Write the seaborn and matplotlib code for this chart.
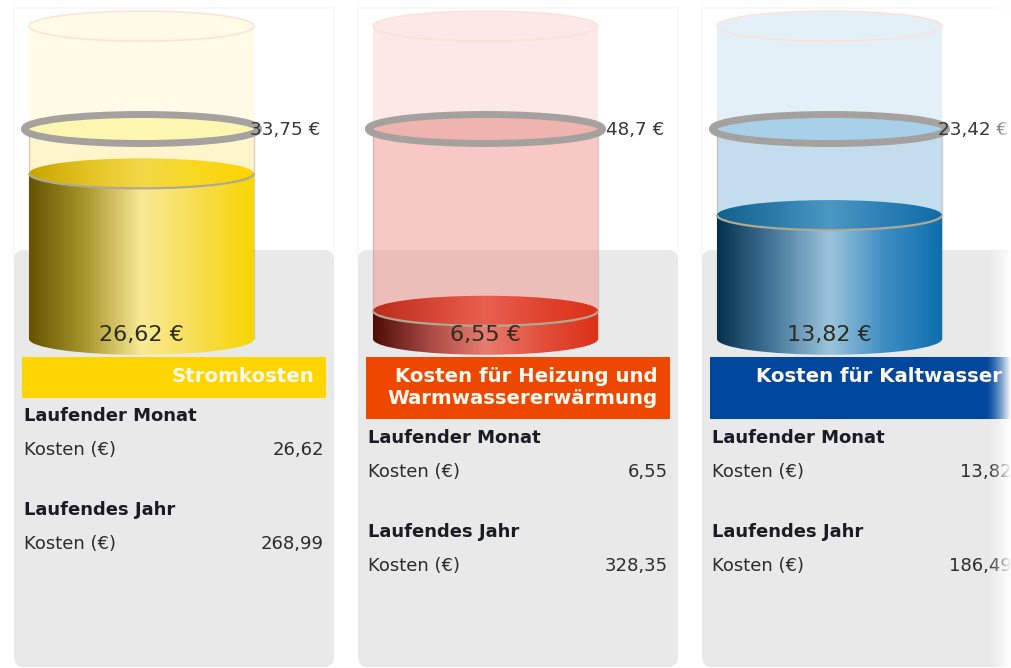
import numpy as np
import matplotlib
matplotlib.use('Agg')
import matplotlib.pyplot as plt
import seaborn as sns
from matplotlib.colors import LinearSegmentedColormap
from matplotlib.patches import Arc, Ellipse, FancyBboxPatch, Rectangle

# values
names = ['Stromkosten', 'Kosten für Heizung und\nWarmwassererwärmung', 'Kosten für Kaltwasser']
current = [26.62, 6.55, 13.82]
target = [33.75, 48.7, 23.42]
year_cost = [268.99, 328.35, 186.49]

band_colors = ['#ffd500', '#ee4700', '#00479d']
band_heights = [41, 62, 62]
glass_colors = ['#fff4b0', '#f6b4b0', '#a8d0ea']
below_colors = ['#fde890', '#ee8078', '#78b4da']
ring_fill = ['#fdf6b0', '#f0b4b0', '#a8d0e8']
body_stops = [
    ['#655400', '#a8962c', '#f9ea96', '#f7dd50', '#f8d600'],
    ['#4e0c06', '#a84a44', '#e87c70', '#e2503c', '#dc3018'],
    ['#06304e', '#45789a', '#9cc4dc', '#3c8dc2', '#0e6fae'],
]
cap_stops = [
    ['#c8a400', '#e2c220', '#f4d848', '#f7d820', '#ffd400'],
    ['#bc2c1a', '#d44436', '#e86050', '#e04430', '#dc3018'],
    ['#12628e', '#2a7aa8', '#4c98c4', '#2a80b4', '#0e6ca8'],
]

sns.set_theme(style='white')
plt.rcParams['font.family'] = 'DejaVu Sans'

W, H = 1011, 668
fig = plt.figure(figsize=(W / 100, H / 100), dpi=100)

# pixel axes behind everything, for panels and coloured bands
bg = fig.add_axes([0, 0, 1, 1])
bg.set_xlim(0, W)
bg.set_ylim(H, 0)
bg.axis('off')

top = fig.add_axes([0, 0, 1, 1], zorder=10)
top.set_xlim(0, W)
top.set_ylim(H, 0)
top.axis('off')
top.patch.set_alpha(0)


def euro(v):
    return str(v).replace('.', ',')


def gradient(ax, stops, lo, hi, clip, zorder):
    cmap = LinearSegmentedColormap.from_list('c', stops)
    im = ax.imshow(np.linspace(0, 1, 256)[None, :], cmap=cmap, aspect='auto',
                   extent=(-0.5, 0.5, lo, hi), zorder=zorder)
    im.set_clip_path(clip)


for i in range(3):
    x0 = 14 + 344 * i
    dy = 0 if i == 0 else 22

    bg.add_patch(Rectangle((x0, 8), 320, 250, fc='white', ec='#f7f7fa', lw=1.5))
    bg.add_patch(FancyBboxPatch((x0 + 8, 258), 304, 401, boxstyle='round,pad=8,rounding_size=10',
                                fc='#e9e9e9', ec='none'))
    bg.add_patch(Rectangle((x0 + 8, 357), 304, band_heights[i], fc=band_colors[i], ec='none'))

    # cylinder axes, y is in euro and the target always sits at the same height
    scale = 210 / target[i]
    ax = fig.add_axes([x0 / W, 0, 320 / W, 1], zorder=5)
    ax.patch.set_alpha(0)
    glass_top = target[i] * 1.49
    eh = 30 / scale

    ax.add_patch(Ellipse((0, glass_top), 1, eh, fc='white', ec='none', zorder=0.5))
    sns.barplot(x=[names[i]], y=[glass_top], width=1, color=glass_colors[i], alpha=0.3,
                saturation=1, ax=ax, zorder=1)
    ax.patches[-1].set_edgecolor('none')
    sns.barplot(x=[names[i]], y=[target[i]], width=1, color=below_colors[i], alpha=0.3,
                saturation=1, ax=ax, zorder=2)
    ax.patches[-1].set_edgecolor('none')
    ax.add_patch(Ellipse((0, glass_top), 1, eh, fc='white', ec='none', zorder=3))
    ax.add_patch(Ellipse((0, glass_top), 1, eh, fc=glass_colors[i], alpha=0.3, ec='none', zorder=3.1))
    ax.add_patch(Ellipse((0, glass_top), 1, eh, fc='none', ec='#fbe3da', lw=1.2, zorder=3.2))
    ax.vlines([-0.5, 0.5], 0, target[i], color='#b8b0a8', lw=1, alpha=0.6, zorder=3)

    # filled part
    sns.barplot(x=[names[i]], y=[current[i]], width=1, color=body_stops[i][2], saturation=1,
                ax=ax, zorder=4)
    level_bar = ax.patches[-1]
    level_bar.set_edgecolor('none')
    gradient(ax, body_stops[i], -eh, current[i], level_bar, 5)
    bottom = Ellipse((0, 0), 1, eh * 1.05, fc='none', ec='none', zorder=5)
    ax.add_patch(bottom)
    gradient(ax, body_stops[i], -eh, current[i], bottom, 5)
    cap = Ellipse((0, current[i]), 1, eh, fc='none', ec='none', zorder=7)
    ax.add_patch(cap)
    gradient(ax, cap_stops[i], current[i] - eh, current[i] + eh, cap, 6)
    ax.add_patch(Arc((0, current[i]), 1, eh, theta1=180, theta2=360, ec='#b0a890', lw=1.6, zorder=7))

    # target ring
    ax.add_patch(Ellipse((0, target[i]), 234 / 225, 29 / scale, fc=ring_fill[i], ec='#a5a19e',
                         lw=5, zorder=8))

    ax.set_xlim((x0 - (x0 + 127.5)) / 225, (x0 + 320 - (x0 + 127.5)) / 225)
    ax.set_ylim(-(H - 339) / scale, 339 / scale)
    ax.axis('off')

    # text
    cx = x0 + 127.5
    top.text(x0 + 306, 130, euro(target[i]) + ' €', ha='right', va='center', fontsize=13.2,
             color='#383838')
    top.text(cx, 335, euro(current[i]) + ' €', ha='center', va='center', fontsize=16, color='#2c2c20')
    lines = names[i].split('\n')
    for k, line in enumerate(lines):
        top.text(x0 + 300, 377 + 21 * k, line, ha='right', va='center', fontsize=14.2,
                 fontweight='bold', color='#fff8ee')
    tx = x0 + 10
    rx = x0 + 310
    top.text(tx, 416 + dy, 'Laufender Monat', va='center', fontsize=13, fontweight='bold', color='#1c1c24')
    top.text(tx, 450 + dy, 'Kosten (€)', va='center', fontsize=13, color='#2c2c2c')
    top.text(rx, 450 + dy, euro(current[i]), ha='right', va='center', fontsize=13, color='#2c2c2c')
    top.text(tx, 510 + dy, 'Laufendes Jahr', va='center', fontsize=13, fontweight='bold', color='#1c1c24')
    top.text(tx, 544 + dy, 'Kosten (€)', va='center', fontsize=13, color='#2c2c2c')
    top.text(rx, 544 + dy, euro(year_cost[i]), ha='right', va='center', fontsize=13, color='#2c2c2c')

# the right edge of the screenshot fades out to white
fade = np.ones((2, 64, 4))
fade[:, :, 3] = np.linspace(0, 1, 64) ** 1.5
top.imshow(fade, extent=(985, W, H, 0), aspect='auto', zorder=20)
top.set_xlim(0, W)
top.set_ylim(H, 0)

fig.savefig('out.png', dpi=100)
